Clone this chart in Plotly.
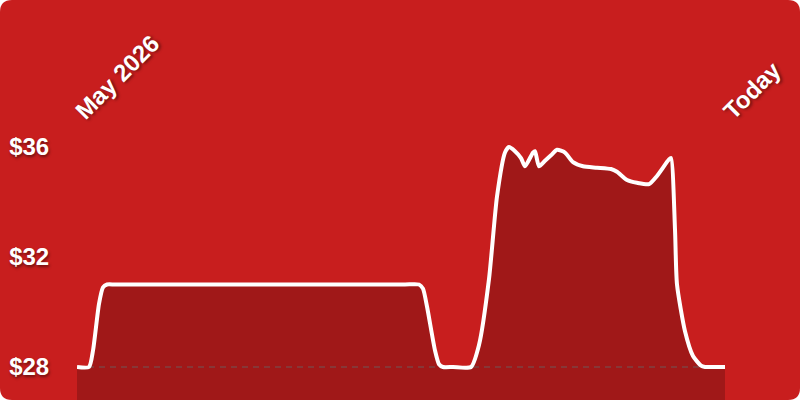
import plotly.graph_objects as go

dates = [
    "2026-05-01", "2026-05-07", "2026-05-09", "2026-05-12", "2026-05-14", "2026-05-16",
    "2026-05-20", "2026-06-20", "2026-08-01", "2026-09-15", "2026-10-12",
    "2026-10-19", "2026-10-21", "2026-10-23", "2026-10-27", "2026-10-29", "2026-10-31",
    "2026-11-05", "2026-11-14", "2026-11-18", "2026-11-23", "2026-11-27",
    "2026-12-01", "2026-12-03", "2026-12-06", "2026-12-09", "2026-12-11",
    "2026-12-15", "2026-12-16", "2026-12-18", "2026-12-21", "2026-12-24", "2026-12-27",
    "2026-12-31", "2027-01-04", "2027-01-09", "2027-01-16", "2027-01-23", "2027-01-26",
    "2027-01-31", "2027-02-05", "2027-02-11", "2027-02-15", "2027-02-21", "2027-02-22",
    "2027-02-24", "2027-02-25", "2027-03-01", "2027-03-05", "2027-03-09", "2027-03-11",
    "2027-03-16", "2027-03-21",
]
prices = [
    28.0, 28.0, 28.6, 30.3, 30.9, 31.0,
    31.0, 31.0, 31.0, 31.0, 31.0,
    31.0, 30.85, 30.2, 28.6, 28.1, 28.0,
    28.0, 28.0, 28.8, 31.2, 34.2,
    35.8, 36.0, 35.85, 35.6, 35.3,
    35.8, 35.85, 35.3, 35.5, 35.7, 35.9,
    35.8, 35.45, 35.3, 35.25, 35.2, 35.1,
    34.8, 34.7, 34.65, 34.95, 35.55, 35.6,
    33.0, 31.0, 29.3, 28.4, 28.05, 28.0,
    28.0, 28.0,
]
baseline = 28.0
y_ticks = [28, 32, 36]
y_labels = ["$28", "$32", "$36"]
x_ticks = [dates[0], dates[-1]]
x_labels = ["May 2026", "Today"]

BG = "#c81e1e"
W, H = 800, 400
ML, MR, MT, MB = 77, 75, 130, 0
pw, ph = W - ML - MR, H - MT - MB

fig = go.Figure()

# dashed baseline at the lowest price
fig.add_trace(go.Scatter(
    x=[dates[0], dates[-1]], y=[baseline, baseline],
    mode="lines", line=dict(color="rgba(128,128,128,0.55)", width=1.5, dash="6px,5px"),
    hoverinfo="skip",
))

fig.add_trace(go.Scatter(
    x=dates, y=prices,
    mode="lines",
    line=dict(color="white", width=4, shape="spline", smoothing=0.6),
    fill="tozeroy", fillcolor="rgba(0,0,0,0.2)",
))

# rounded card behind everything
r = 12
x0, x1 = -ML / pw, (W - ML) / pw
y0, y1 = -MB / ph, (H - MB) / ph
rx, ry = r / pw, r / ph
card = (f"M {x0 + rx} {y0} L {x1 - rx} {y0} Q {x1} {y0} {x1} {y0 + ry} "
        f"L {x1} {y1 - ry} Q {x1} {y1} {x1 - rx} {y1} "
        f"L {x0 + rx} {y1} Q {x0} {y1} {x0} {y1 - ry} "
        f"L {x0} {y0 + ry} Q {x0} {y0} {x0 + rx} {y0} Z")
fig.add_shape(type="path", path=card, xref="paper", yref="paper",
              fillcolor=BG, line_width=0, layer="below")

label_font = dict(family="Liberation Sans, Arial, sans-serif", size=24, color="white",
                  weight="bold", shadow="1px 2px 3px rgba(0,0,0,0.45)")

fig.update_layout(
    width=W, height=H,
    margin=dict(l=ML, r=MR, t=MT, b=MB),
    paper_bgcolor="white", plot_bgcolor="rgba(0,0,0,0)",
    showlegend=False,
    xaxis=dict(
        type="date", side="top", range=[dates[0], dates[-1]],
        tickvals=x_ticks, ticktext=x_labels, tickangle=-45,
        tickfont=label_font, showgrid=False, zeroline=False, showline=False,
        ticks="",
    ),
    yaxis=dict(
        range=[26.8, 36.62], tickvals=y_ticks, ticktext=y_labels,
        tickfont=label_font, showgrid=False, zeroline=False, showline=False,
        ticks="outside", ticklen=22, tickcolor="rgba(0,0,0,0)",
    ),
)

fig.write_html("out.html", config={"displayModeBar": False},
               post_script="document.body.style.margin='0';")
